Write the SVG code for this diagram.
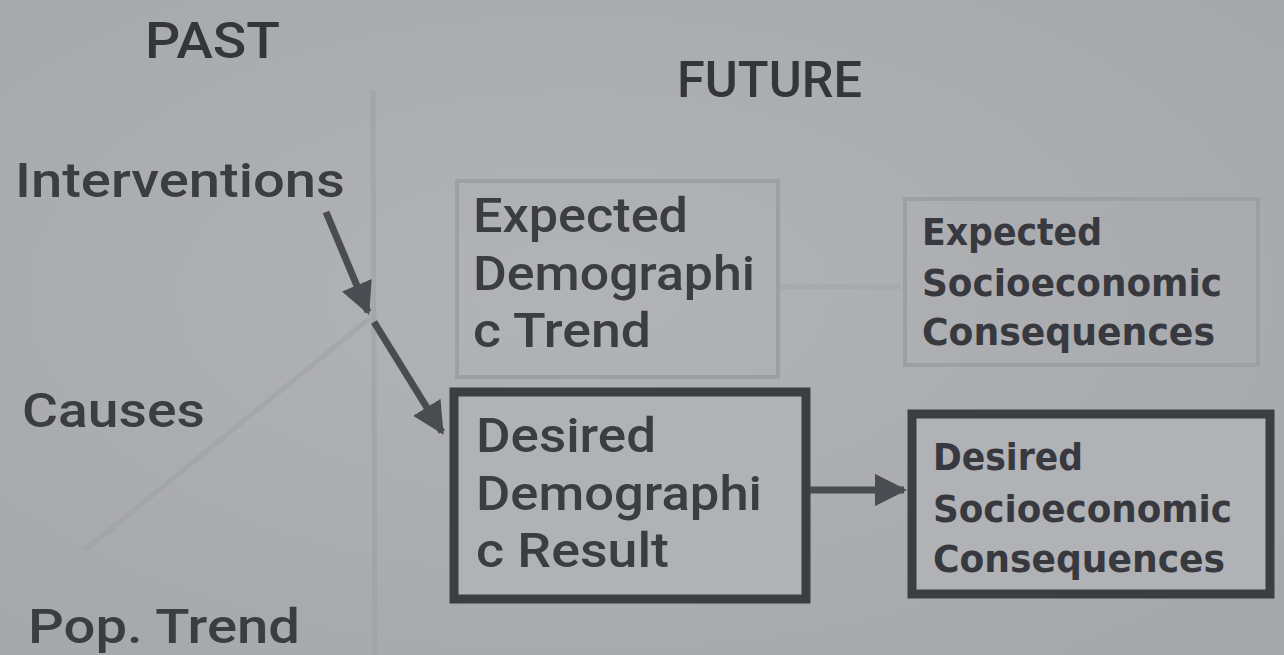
<svg xmlns="http://www.w3.org/2000/svg" width="1284" height="655" viewBox="0 0 1284 655">
<style>
  .t{font-family:Roboto,"Liberation Sans",sans-serif;fill:#3b3d42;font-size:49px;font-weight:500}
  .h{font-family:Roboto,"Liberation Sans",sans-serif;fill:#34363b;font-size:50px;font-weight:500}
  .s{font-family:"DejaVu Sans Condensed","Liberation Sans",sans-serif;fill:#37393e;font-size:38px;font-weight:bold}
  .faint{fill:none;stroke:#9d9fa4;stroke-width:4}
  .strong{fill:#b0b2b6;stroke:#3c3e43;stroke-width:9}
  .conn{stroke:#4a4c51;stroke-width:7;fill:none}
</style>
<defs>
  <radialGradient id="bg" cx="0.45" cy="0.45" r="0.8">
    <stop offset="0" stop-color="#b2b3b7"/>
    <stop offset="1" stop-color="#a4a6aa"/>
  </radialGradient>
  <marker id="ah" viewBox="0 0 10 10" refX="9" refY="5" markerWidth="4.6" markerHeight="4.6" orient="auto" markerUnits="strokeWidth">
    <path d="M0,0 L10,5 L0,10 Z" fill="#4a4c51"/>
  </marker>
</defs>
<rect width="1284" height="655" fill="url(#bg)"/>

<g id="guides">
  <line x1="373" y1="90" x2="375" y2="655" stroke="#9c9ea2" stroke-width="5" opacity="0.5"/>
  <line x1="85" y1="550" x2="370" y2="318" stroke="#9c9ea2" stroke-width="5" opacity="0.45"/>
</g>

<g id="headers">
  <text id="past" class="h" x="145" y="58" textLength="135" lengthAdjust="spacingAndGlyphs">PAST</text>
  <text id="future" class="h" x="677" y="97" textLength="185" lengthAdjust="spacingAndGlyphs">FUTURE</text>
</g>

<g id="interventions"><text class="t" x="15" y="197" textLength="330" lengthAdjust="spacingAndGlyphs">Interventions</text></g>
<g id="causes"><text class="t" x="22" y="427" textLength="183" lengthAdjust="spacingAndGlyphs">Causes</text></g>
<g id="poptrend"><text class="t" x="28" y="643" textLength="272" lengthAdjust="spacingAndGlyphs">Pop. Trend</text></g>

<g id="expected-demo">
  <rect class="faint" x="457" y="181" width="321" height="196"/>
  <text class="t" x="473" y="232" textLength="215" lengthAdjust="spacingAndGlyphs">Expected</text>
  <text class="t" x="473" y="290" textLength="282" lengthAdjust="spacingAndGlyphs">Demographi</text>
  <text class="t" x="473" y="347" textLength="178" lengthAdjust="spacingAndGlyphs">c Trend</text>
</g>

<g id="expected-socio">
  <rect class="faint" x="905" y="199" width="353" height="166"/>
  <text class="s" x="922" y="245" textLength="180" lengthAdjust="spacingAndGlyphs">Expected</text>
  <text class="s" x="922" y="296" textLength="300" lengthAdjust="spacingAndGlyphs">Socioeconomic</text>
  <text class="s" x="922" y="345" textLength="293" lengthAdjust="spacingAndGlyphs">Consequences</text>
</g>

<g id="desired-demo">
  <rect class="strong" x="454" y="392" width="352" height="207"/>
  <text class="t" x="476" y="452" textLength="180" lengthAdjust="spacingAndGlyphs">Desired</text>
  <text class="t" x="476" y="510" textLength="286" lengthAdjust="spacingAndGlyphs">Demographi</text>
  <text class="t" x="476" y="567" textLength="193" lengthAdjust="spacingAndGlyphs">c Result</text>
</g>

<g id="desired-socio">
  <rect class="strong" x="912" y="414" width="358" height="180"/>
  <text class="s" x="933" y="470" textLength="150" lengthAdjust="spacingAndGlyphs">Desired</text>
  <text class="s" x="933" y="522" textLength="299" lengthAdjust="spacingAndGlyphs">Socioeconomic</text>
  <text class="s" x="933" y="572" textLength="292" lengthAdjust="spacingAndGlyphs">Consequences</text>
</g>

<g id="connectors">
  <line class="conn" x1="326" y1="212" x2="368" y2="312" marker-end="url(#ah)"/>
  <line class="conn" x1="374" y1="322" x2="442" y2="432" marker-end="url(#ah)"/>
  <line class="conn" x1="810" y1="490" x2="904" y2="490" marker-end="url(#ah)"/>
  <line x1="780" y1="287" x2="900" y2="287" stroke="#9c9ea2" stroke-width="5" opacity="0.35"/>
</g>
</svg>
